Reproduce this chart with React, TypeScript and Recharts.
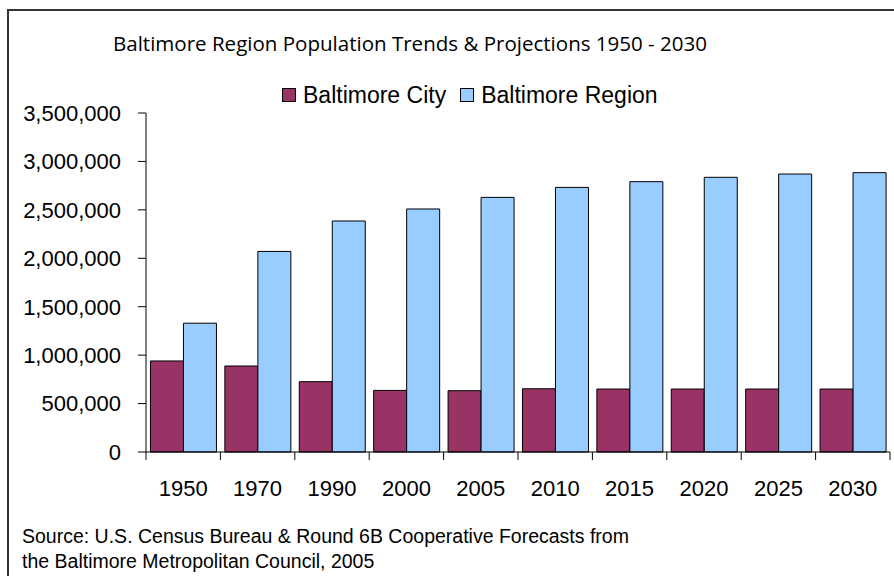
import React from 'react';
import { BarChart, Bar, XAxis, YAxis } from 'recharts';

const years = ['1950', '1970', '1990', '2000', '2005', '2010', '2015', '2020', '2025', '2030'];
const cityPop = [940000, 888000, 726000, 636000, 633000, 653000, 650000, 650000, 650000, 650000];
const regionPop = [1330000, 2071000, 2385000, 2509000, 2629000, 2732000, 2791000, 2836000, 2870000, 2884000];
const yTicks = [0, 500000, 1000000, 1500000, 2000000, 2500000, 3000000, 3500000];

const CITY_COLOR = '#993366';
const REGION_COLOR = '#99CCFF';
const FONT = '"Liberation Sans", Arial, sans-serif';

const W = 894;
const H = 576;
const PLOT_LEFT = 146;
const PLOT_TOP = 113;
const PLOT_RIGHT = 890;
const PLOT_BOTTOM = 452;
const X_AXIS_H = 40;

const data = years.map((y, i) => ({ year: y, city: cityPop[i], region: regionPop[i] }));

const fmt = (v: number) => v.toLocaleString('en-US');

// year label at the bar group centre, tick marks on the group boundaries (Excel style)
function YearTick(props: any) {
  const { x, index, payload } = props;
  const half = (PLOT_RIGHT - PLOT_LEFT) / years.length / 2;
  return (
    <g>
      <line x1={x - half} x2={x - half} y1={PLOT_BOTTOM} y2={PLOT_BOTTOM + 8} stroke="#000" />
      {index === years.length - 1 && (
        <line x1={x + half} x2={x + half} y1={PLOT_BOTTOM} y2={PLOT_BOTTOM + 8} stroke="#000" />
      )}
      <text x={x} y={PLOT_BOTTOM + 44} textAnchor="middle" fontSize={22} fontFamily={FONT} fill="#000">
        {payload.value}
      </text>
    </g>
  );
}

function LegendBox() {
  const items = [
    { name: 'Baltimore City', color: CITY_COLOR },
    { name: 'Baltimore Region', color: REGION_COLOR },
  ];
  return (
    <div style={{ display: 'flex', alignItems: 'center', fontFamily: FONT, fontSize: 23, color: '#000' }}>
      {items.map((it, i) => (
        <div key={it.name} style={{ display: 'flex', alignItems: 'center', marginRight: i === 0 ? 14 : 0 }}>
          <span
            style={{
              display: 'inline-block',
              width: 12,
              height: 12,
              background: it.color,
              border: '1px solid #000',
              marginRight: 7,
            }}
          />
          <span style={{ lineHeight: '26px' }}>{it.name}</span>
        </div>
      ))}
    </div>
  );
}

export default function App() {
  return (
    <div
      style={{
        position: 'absolute',
        left: 0,
        top: 0,
        width: W,
        height: H,
        overflow: 'hidden',
        background: '#fff',
      }}
    >
      <div
        style={{
          position: 'absolute',
          left: 7,
          top: 9,
          width: W + 20,
          height: H + 20,
          borderLeft: '2px solid #333',
          borderTop: '2px solid #333',
        }}
      />
      <svg style={{ position: 'absolute', left: 0, top: 0 }} width={W} height={70}>
        <text
          x={113}
          y={51}
          fontFamily="'Open Sans', Lato, sans-serif"
          fontSize={20}
          fill="#000"
          textLength={594}
          lengthAdjust="spacingAndGlyphs"
        >
          Baltimore Region Population Trends &amp; Projections 1950 - 2030
        </text>
      </svg>
      <div style={{ position: 'absolute', left: 282, top: 82 }}>
        <LegendBox />
      </div>
      <div style={{ position: 'absolute', left: 0, top: 0 }}>
        <BarChart
          width={W}
          height={H}
          data={data}
          margin={{ top: PLOT_TOP, right: W - PLOT_RIGHT, left: 0, bottom: H - PLOT_BOTTOM - X_AXIS_H }}
          barCategoryGap="6%"
          barGap={0}
        >
          <XAxis
            dataKey="year"
            height={X_AXIS_H}
            axisLine={{ stroke: '#000' }}
            tickLine={false}
            tick={<YearTick />}
            interval={0}
          />
          <YAxis
            width={PLOT_LEFT}
            domain={[0, 3500000]}
            ticks={yTicks}
            interval={0}
            tickFormatter={fmt}
            axisLine={{ stroke: '#000' }}
            tickLine={{ stroke: '#000' }}
            tickSize={8}
            tickMargin={17}
            tick={{ fontSize: 22, fontFamily: FONT, fill: '#000' }}
          />
          <Bar dataKey="city" name="Baltimore City" fill={CITY_COLOR} stroke="#000" strokeWidth={1} isAnimationActive={false} />
          <Bar dataKey="region" name="Baltimore Region" fill={REGION_COLOR} stroke="#000" strokeWidth={1} isAnimationActive={false} />
        </BarChart>
      </div>
      <div
        style={{
          position: 'absolute',
          left: 22,
          top: 524,
          fontFamily: FONT,
          fontSize: 19.5,
          lineHeight: '25px',
          color: '#000',
          whiteSpace: 'nowrap',
        }}
      >
        Source: U.S. Census Bureau &amp; Round 6B Cooperative Forecasts from
        <br />
        the Baltimore Metropolitan Council, 2005
      </div>
    </div>
  );
}
